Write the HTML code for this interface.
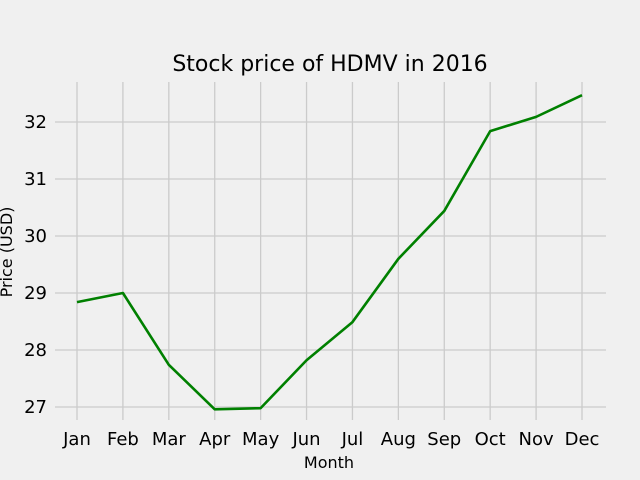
<!DOCTYPE html>
<html><head><meta charset="utf-8"><style>
html,body{margin:0;padding:0;background:#f0f0f0;}
svg{display:block;font-family:"DejaVu Sans","Liberation Sans",sans-serif;}
</style></head><body>
<svg id="chart" width="640" height="480" viewBox="0 0 640 480">
<rect width="640" height="480" fill="#f0f0f0"/>
<text x="330" y="71" text-anchor="middle" font-size="22" fill="#000">Stock price of HDMV in 2016</text>
<g id="grid"></g>
<g id="ticks"></g>
<text x="329" y="468" text-anchor="middle" font-size="16">Month</text>
<text transform="translate(12,252) rotate(-90)" text-anchor="middle" font-size="16">Price (USD)</text>
<path id="line" fill="none" stroke="#008000" stroke-width="2.6" stroke-linejoin="round"/>
</svg>
<script>
const months = ["Jan","Feb","Mar","Apr","May","Jun","Jul","Aug","Sep","Oct","Nov","Dec"];
const prices = [28.84,29.0,27.74,26.96,26.98,27.82,28.49,29.6,30.44,31.84,32.09,32.47];
const yTicks = [27,28,29,30,31,32];
const ns="http://www.w3.org/2000/svg";
const xs = i => 77 + i*(582-77)/11;
const ys = v => 407 - (v-27)*57;
const plotTop=82, plotBottom=420, plotLeft=55, plotRight=606;
const gridG=document.getElementById('grid'), ticksG=document.getElementById('ticks');
function mk(tag,attrs,parent){const e=document.createElementNS(ns,tag);for(const k in attrs)e.setAttribute(k,attrs[k]);parent.appendChild(e);return e;}
months.forEach((m,i)=>{
  const l=mk('line',{x1:xs(i),x2:xs(i),y1:plotTop,y2:plotBottom,stroke:'#cbcbcb','stroke-width':1.3},gridG);
  
  
  const t=mk('text',{x:xs(i),y:445,'text-anchor':'middle','font-size':18},ticksG);
  t.textContent=m;
  
  
});
yTicks.forEach(v=>{
  const l=mk('line',{x1:plotLeft,x2:plotRight,y1:ys(v),y2:ys(v),stroke:'#cbcbcb','stroke-width':1.3},gridG);
  
  
  const t=mk('text',{x:47,y:ys(v)+6,'text-anchor':'end','font-size':18},ticksG);
  t.textContent=v;
  
  
});
document.getElementById('line').setAttribute('d',prices.map((p,i)=>(i?'L':'M')+xs(i)+','+ys(p)).join(' '));
</script>
</body></html>
